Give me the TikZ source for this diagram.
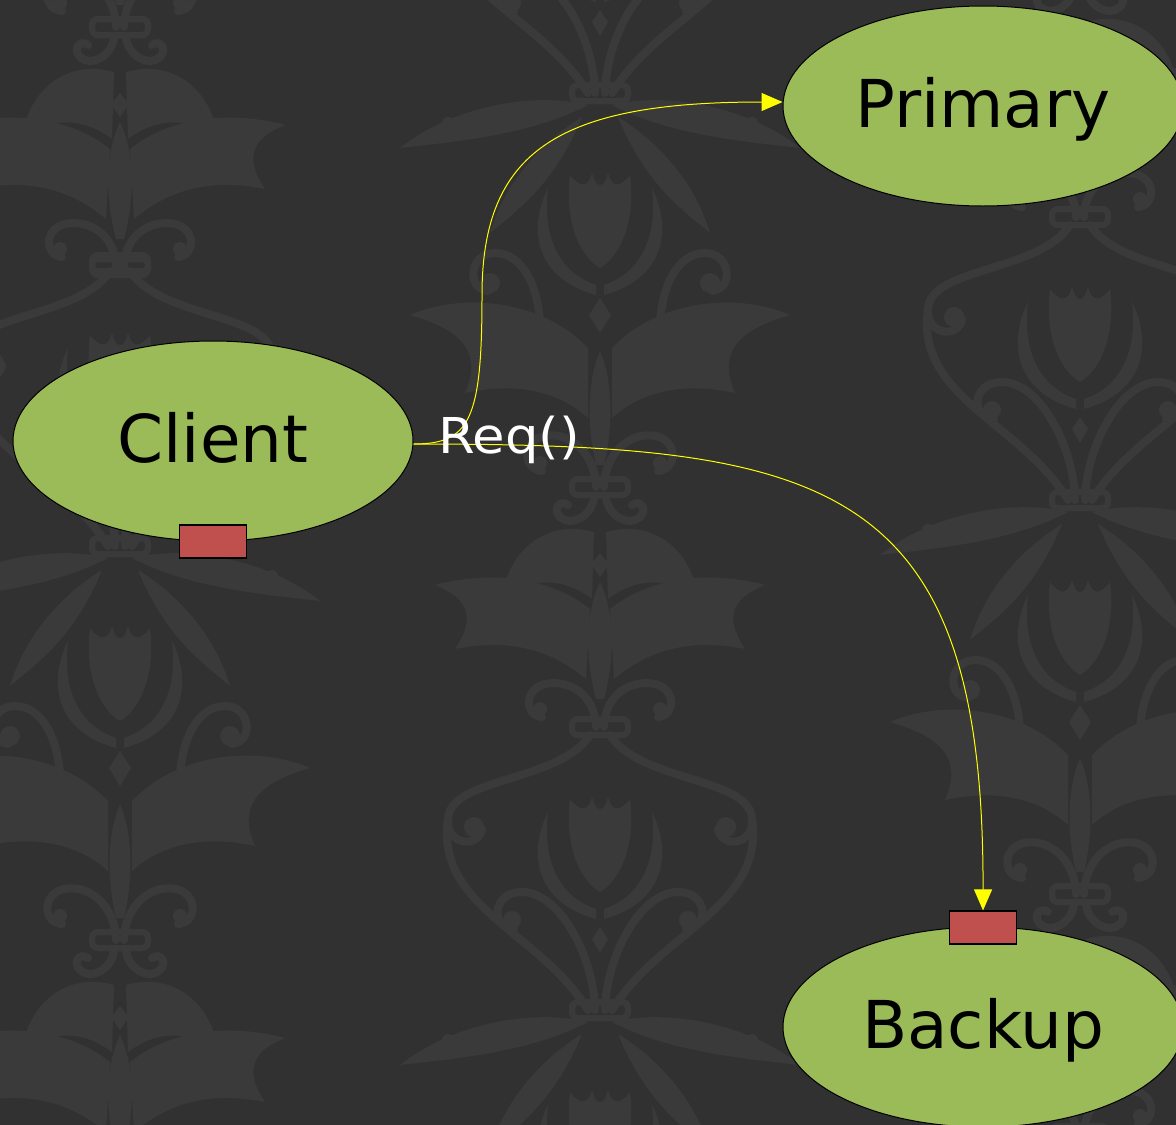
\documentclass[tikz,border=0pt]{standalone}
\usepackage{fontspec}
\setmainfont{DejaVu Sans}
\newfontfamily\labelfont[FakeStretch=1.07]{DejaVu Sans}
\usetikzlibrary{shapes.geometric,arrows.meta}
\definecolor{bgdark}{HTML}{313131}
\definecolor{dm}{HTML}{3A3A3A}
\definecolor{nodegreen}{HTML}{9BBB59}
\definecolor{portred}{HTML}{C0504D}
\definecolor{flow}{HTML}{FFFF00}
\tikzset{
  proc/.style={ellipse, draw=black, line width=0.5pt, fill=nodegreen,
    minimum width=200pt, minimum height=100pt, inner sep=0pt,
    font=\fontsize{33}{33}\selectfont, text=black,
    text height=24pt, text depth=3pt},
  port/.style={rectangle, draw=black, line width=0.6pt, fill=portred,
    minimum width=33.5pt, minimum height=16.5pt, inner sep=0pt},
  msg/.style={draw=flow, line width=0.5pt,
    -{Triangle[length=10.5pt, width=9pt, fill=flow]}},
  msglabel/.style={text=white, font=\labelfont\fontsize{24.7}{24.7}\selectfont, inner sep=0pt},
  % damask wallpaper pieces (local units: px, y pointing down)
  dmline/.style={draw=dm, line width=4pt, line cap=round},
  dcollar/.pic={\draw[draw=dm, line width=3pt, rounded corners=3pt] (-28,-8) rectangle (28,8);},
  dtulip/.pic={
    \foreach \s in {-1,1}{
      \begin{scope}[xscale=\s]
        \fill[dm] (0,95) .. controls (25,80) and (35,40) .. (30,2)
          .. controls (20,15) and (12,15) .. (8,0)
          .. controls (5,10) and (3,12) .. (0,12) -- cycle;
        \fill[dm] (4,112) .. controls (40,100) and (58,65) .. (52,15)
          .. controls (72,55) and (66,105) .. (4,122) -- cycle;
      \end{scope}}
  },
  dmTF/.pic={
    \pic at (0,0) {dcollar};
    \foreach \s in {-1,1}{
      \begin{scope}[xscale=\s]
        \fill[dm] (12,12) .. controls (70,-2) and (150,15) .. (200,55)
          .. controls (140,48) and (70,42) .. (12,12) -- cycle;
        \fill[dm] (18,24) .. controls (60,50) and (95,90) .. (110,140)
          .. controls (80,115) and (45,90) .. (18,24) -- cycle;
        \fill[dm] (90,24) circle (7);
        \fill[dm] (152,30) circle (6);
        \draw[dmline] (60,235) .. controls (60,200) and (75,160) .. (105,160)
          .. controls (130,160) and (135,195) .. (112,198);
        \fill[dm] (110,190) circle (10);
        \fill[dm] (12,255) .. controls (60,205) and (140,200) .. (190,222)
          .. controls (145,235) and (115,255) .. (135,300)
          .. controls (90,290) and (45,295) .. (12,325) -- cycle;
        \fill[dm] (0,258) .. controls (12,285) and (14,330) .. (4,372) -- (0,372) -- cycle;
        \draw[dmline] (4,394) .. controls (5,360) and (30,338) .. (56,343)
          .. controls (78,348) and (78,376) .. (58,378);
        \fill[dm] (60,370) circle (7);
      \end{scope}}
    \pic at (0,80) {dtulip};
    \fill[dm] (0,205) -- (11,222) -- (0,240) -- (-11,222) -- cycle;
    \pic at (0,394) {dcollar};
  },
  dmA/.pic={
    \pic at (0,0) {dcollar};
    \foreach \s in {-1,1}{
      \begin{scope}[xscale=\s]
        \draw[dmline] (6,10) .. controls (8,30) and (30,40) .. (40,30)
          .. controls (48,22) and (40,12) .. (32,18);
        \fill[dm] (6,45) .. controls (50,32) and (92,60) .. (98,112)
          .. controls (72,92) and (40,88) .. (8,112) -- cycle;
        \fill[dm] (10,122) .. controls (60,82) and (130,88) .. (165,98)
          .. controls (135,110) and (122,128) .. (145,162)
          .. controls (95,152) and (52,160) .. (14,192) -- cycle;
        \fill[dm] (0,95) .. controls (14,125) and (16,165) .. (4,212) -- (0,212) -- cycle;
        \draw[dmline] (4,240) .. controls (5,208) and (30,192) .. (55,197)
          .. controls (76,202) and (76,228) .. (58,230);
        \fill[dm] (60,222) circle (7);
      \end{scope}}
    \fill[dm] (0,66) -- (9,77) -- (0,90) -- (-9,77) -- cycle;
    \pic at (0,240) {dcollar};
  },
  dmB/.pic={
    \pic at (0,0) {dcollar};
    \foreach \s in {-1,1}{
      \begin{scope}[xscale=\s]
        \draw[dmline] (10,8) .. controls (40,55) and (150,50) .. (152,92)
          .. controls (154,118) and (122,122) .. (118,102);
        \fill[dm] (126,100) circle (10);
        \draw[dmline] (152,92) .. controls (165,180) and (60,205) .. (12,283);
        \draw[dmline] (5,283) .. controls (6,230) and (40,165) .. (78,165)
          .. controls (108,165) and (110,200) .. (86,202);
        \fill[dm] (88,193) circle (9);
      \end{scope}}
    \pic at (0,70) {dtulip};
    \fill[dm] (0,200) -- (8,212) -- (0,226) -- (-8,212) -- cycle;
    \pic at (0,283) {dcollar};
  }
}
\begin{document}
\begin{tikzpicture}[x=0.5pt, y=-0.5pt]
  \useasboundingbox (0,0) rectangle (1176,1124);
  \fill[bgdark] (-8,-8) rectangle (1184,1132);
  \begin{scope}
    \clip (-4,-4) rectangle (1180,1128);
    % wallpaper
    \pic at (120,-367) {dmTF};
    \pic at (120,27)   {dmA};
    \pic at (120,263)  {dmB};
    \pic at (120,546)  {dmTF};
    \pic at (120,940)  {dmA};
    \pic at (600,-190) {dmB};
    \pic at (600,93)   {dmTF};
    \pic at (600,487)  {dmA};
    \pic at (600,727)  {dmB};
    \pic at (600,1010) {dmTF};
    \pic at (1080,-23) {dmA};
    \pic at (1080,217) {dmB};
    \pic at (1080,500) {dmTF};
    \pic at (1080,894) {dmA};
  \end{scope}

  % processes
  \node[proc] (client)  at (213,441)  {Client};
  \node[proc] (primary) at (983,106)  {Primary};
  \node[proc] (backup)  at (983,1027) {Backup};

  % message queues
  \node[port] (cport) at (client.south) {};
  \node[port] (bport) at ([yshift=-0.5pt]backup.north) {};

  % request fan-out
  \coordinate (bend) at (482,295);
  \draw[msg] ([yshift=-1.5pt]client.east)
      .. controls (470,444) and (482,420) .. (bend)
      .. controls (482,150) and (560,102) .. ([yshift=2pt]primary.west);
  \draw[msg] ([yshift=-1.5pt]client.east)
      .. controls (830,444) and (984,480) .. (bport.north);

  \node[msglabel, anchor=base west] (req) at (438,453) {Req()};
\end{tikzpicture}
\end{document}
